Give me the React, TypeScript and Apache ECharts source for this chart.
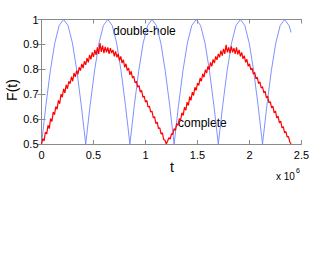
import React, { useEffect, useRef } from "react";
import * as echarts from "echarts";

const xTicks = [0, 0.5, 1, 1.5, 2, 2.5];
const yTicks = [0.5, 0.6, 0.7, 0.8, 0.9, 1];

// double-hole (blue): [t (x10^6), F]
const doubleHole: [number, number][] = [
  [0, 0.5], [0.0425, 0.655], [0.085, 0.794], [0.1275, 0.905], [0.17, 0.976], [0.2125, 1.0],
  [0.255, 0.976], [0.2975, 0.905], [0.34, 0.794], [0.3825, 0.655], [0.425, 0.5],
  [0.4675, 0.655], [0.51, 0.794], [0.5525, 0.905], [0.595, 0.976], [0.6375, 1.0],
  [0.68, 0.976], [0.7225, 0.905], [0.765, 0.794], [0.8075, 0.655], [0.85, 0.5],
  [0.8925, 0.655], [0.935, 0.794], [0.9775, 0.905], [1.02, 0.976], [1.0625, 1.0],
  [1.105, 0.976], [1.1475, 0.905], [1.19, 0.794], [1.2325, 0.655], [1.275, 0.5],
  [1.3175, 0.655], [1.36, 0.794], [1.4025, 0.905], [1.445, 0.976], [1.4875, 1.0],
  [1.53, 0.976], [1.5725, 0.905], [1.615, 0.794], [1.6575, 0.655], [1.7, 0.5],
  [1.7425, 0.655], [1.785, 0.794], [1.8275, 0.905], [1.87, 0.976], [1.9125, 1.0],
  [1.955, 0.976], [1.9975, 0.905], [2.04, 0.794], [2.0825, 0.655], [2.125, 0.5],
  [2.1675, 0.655], [2.21, 0.794], [2.2525, 0.905], [2.295, 0.976], [2.3375, 1.0],
  [2.38, 0.976], [2.4, 0.948],
];

// complete (red, noisy): [t (x10^6), F]
const complete: [number, number][] = [
  [0, 0.5], [0.0125, 0.522], [0.025, 0.512], [0.0375, 0.548], [0.05, 0.54], [0.0625, 0.575],
  [0.075, 0.562], [0.0875, 0.602], [0.1, 0.59], [0.1125, 0.628], [0.125, 0.618], [0.1375, 0.65],
  [0.15, 0.64], [0.1625, 0.675], [0.175, 0.662], [0.1875, 0.7], [0.2, 0.688], [0.2125, 0.722],
  [0.225, 0.705], [0.2375, 0.738], [0.25, 0.722], [0.2625, 0.752], [0.275, 0.742], [0.2875, 0.77],
  [0.3, 0.752], [0.3125, 0.785], [0.325, 0.77], [0.3375, 0.795], [0.35, 0.78], [0.3625, 0.808],
  [0.375, 0.795], [0.3875, 0.822], [0.4, 0.805], [0.4125, 0.832], [0.425, 0.818], [0.4375, 0.845],
  [0.45, 0.828], [0.4625, 0.858], [0.475, 0.84], [0.4875, 0.868], [0.5, 0.85], [0.5125, 0.878],
  [0.525, 0.858], [0.5375, 0.888], [0.55, 0.862], [0.5625, 0.905], [0.575, 0.87], [0.5875, 0.895],
  [0.6, 0.865], [0.6125, 0.89], [0.625, 0.868], [0.6375, 0.888], [0.65, 0.862], [0.6625, 0.885],
  [0.675, 0.865], [0.6875, 0.878], [0.7, 0.852], [0.7125, 0.872], [0.725, 0.848], [0.7375, 0.862],
  [0.75, 0.835], [0.7625, 0.852], [0.775, 0.825], [0.7875, 0.838], [0.8, 0.808], [0.8125, 0.822],
  [0.825, 0.795], [0.8375, 0.805], [0.85, 0.778], [0.8625, 0.792], [0.875, 0.765], [0.8875, 0.772],
  [0.9, 0.745], [0.9125, 0.752], [0.925, 0.728], [0.9375, 0.735], [0.95, 0.708], [0.9625, 0.715],
  [0.975, 0.688], [0.9875, 0.692], [1.0, 0.668], [1.0125, 0.675], [1.025, 0.648], [1.0375, 0.652],
  [1.05, 0.628], [1.0625, 0.632], [1.075, 0.605], [1.0875, 0.61], [1.1, 0.582], [1.1125, 0.588],
  [1.125, 0.562], [1.1375, 0.565], [1.15, 0.54], [1.1625, 0.545], [1.175, 0.518], [1.1875, 0.515],
  [1.2, 0.5], [1.2125, 0.512], [1.225, 0.525], [1.2375, 0.52], [1.25, 0.542], [1.2625, 0.538],
  [1.275, 0.562], [1.2875, 0.555], [1.3, 0.582], [1.3125, 0.575], [1.325, 0.602], [1.3375, 0.595],
  [1.35, 0.625], [1.3625, 0.615], [1.375, 0.648], [1.3875, 0.635], [1.4, 0.668], [1.4125, 0.655],
  [1.425, 0.69], [1.4375, 0.675], [1.45, 0.708], [1.4625, 0.695], [1.475, 0.728], [1.4875, 0.715],
  [1.5, 0.745], [1.5125, 0.735], [1.525, 0.765], [1.5375, 0.752], [1.55, 0.782], [1.5625, 0.768],
  [1.575, 0.798], [1.5875, 0.785], [1.6, 0.812], [1.6125, 0.798], [1.625, 0.828], [1.6375, 0.812],
  [1.65, 0.84], [1.6625, 0.825], [1.675, 0.852], [1.6875, 0.838], [1.7, 0.862], [1.7125, 0.848],
  [1.725, 0.875], [1.7375, 0.855], [1.75, 0.882], [1.7625, 0.862], [1.775, 0.898], [1.7875, 0.868],
  [1.8, 0.888], [1.8125, 0.865], [1.825, 0.892], [1.8375, 0.868], [1.85, 0.885], [1.8625, 0.862],
  [1.875, 0.888], [1.8875, 0.86], [1.9, 0.878], [1.9125, 0.852], [1.925, 0.868], [1.9375, 0.842],
  [1.95, 0.855], [1.9625, 0.828], [1.975, 0.84], [1.9875, 0.812], [2.0, 0.822], [2.0125, 0.798],
  [2.025, 0.805], [2.0375, 0.78], [2.05, 0.788], [2.0625, 0.762], [2.075, 0.768], [2.0875, 0.742],
  [2.1, 0.75], [2.1125, 0.725], [2.125, 0.73], [2.1375, 0.705], [2.15, 0.712], [2.1625, 0.685],
  [2.175, 0.692], [2.1875, 0.665], [2.2, 0.67], [2.2125, 0.645], [2.225, 0.652], [2.2375, 0.625],
  [2.25, 0.632], [2.2625, 0.605], [2.275, 0.612], [2.2875, 0.585], [2.3, 0.592], [2.3125, 0.565],
  [2.325, 0.57], [2.3375, 0.545], [2.35, 0.55], [2.3625, 0.528], [2.375, 0.53], [2.3875, 0.508],
  [2.4, 0.5],
];

const FONT = "Liberation Sans, Arial, Helvetica, sans-serif";
const AXIS_COLOR = "#8a8a8a";

export default function App() {
  const ref = useRef<HTMLDivElement>(null);
  useEffect(() => {
    if (!ref.current) return;
    const chart = echarts.init(ref.current, undefined, { renderer: "svg" });
    const tickCommon = {
      axisLine: { show: true, lineStyle: { color: AXIS_COLOR, width: 1 } },
      axisTick: { show: true, inside: true, length: 4, lineStyle: { color: AXIS_COLOR } },
      splitLine: { show: false },
    };
    chart.setOption({
      animation: false,
      backgroundColor: "#ffffff",
      grid: { left: 41.5, right: 25.5, top: 19.5, bottom: 117, containLabel: false },
      xAxis: [
        {
          type: "value", min: xTicks[0], max: xTicks[xTicks.length - 1], interval: 0.5,
          ...tickCommon,
          axisLabel: { color: "#000", fontSize: 11, fontFamily: FONT, margin: 5,
            formatter: (v: number) => String(v) },
        },
        {
          type: "value", position: "top", min: xTicks[0], max: xTicks[xTicks.length - 1], interval: 0.5,
          ...tickCommon, axisLabel: { show: false },
        },
      ],
      yAxis: [
        {
          type: "value", min: yTicks[0], max: yTicks[yTicks.length - 1], interval: 0.1,
          ...tickCommon,
          axisLabel: { color: "#000", fontSize: 11, fontFamily: FONT, margin: 3,
            formatter: (v: number) => String(Math.round(v * 10) / 10) },
        },
        {
          type: "value", position: "right", min: yTicks[0], max: yTicks[yTicks.length - 1], interval: 0.1,
          ...tickCommon, axisLabel: { show: false },
        },
      ],
      series: [
        {
          type: "line", name: "double-hole", data: doubleHole, showSymbol: false,
          lineStyle: { color: "#6f86ff", width: 0.9 }, z: 2,
        },
        {
          type: "line", name: "complete", data: complete,
          showSymbol: false, lineStyle: { color: "#ff0000", width: 1.2 }, z: 3,
        },
      ],
      graphic: [
        { type: "text", x: 113, y: 25, style: { text: "double-hole", fontSize: 12, fontFamily: FONT, fill: "#000" } },
        { type: "text", x: 178, y: 117, style: { text: "complete", fontSize: 12, fontFamily: FONT, fill: "#000" } },
        { type: "text", x: 12, y: 90, rotation: Math.PI / 2,
          style: { text: "F(t)", fontSize: 14, fontFamily: FONT, fill: "#000", align: "center", verticalAlign: "middle" } },
        { type: "text", x: 172, y: 167,
          style: { text: "t", fontSize: 14, fontFamily: FONT, fill: "#000", align: "center", verticalAlign: "middle" } },
        { type: "text", x: 276, y: 167,
          style: {
            text: "{a|x 10}{b|6}", fontFamily: FONT, fill: "#000",
            rich: {
              a: { fontSize: 10, fontFamily: FONT, fill: "#000", verticalAlign: "bottom", lineHeight: 14 },
              b: { fontSize: 7, fontFamily: FONT, fill: "#000", verticalAlign: "top", lineHeight: 14, padding: [0, 0, 6, 1] },
            },
          } },
      ],
    });
    return () => chart.dispose();
  }, []);
  return (
    <div ref={ref} style={{ position: "fixed", left: 0, top: 0, width: 327, height: 261 }} />
  );
}
